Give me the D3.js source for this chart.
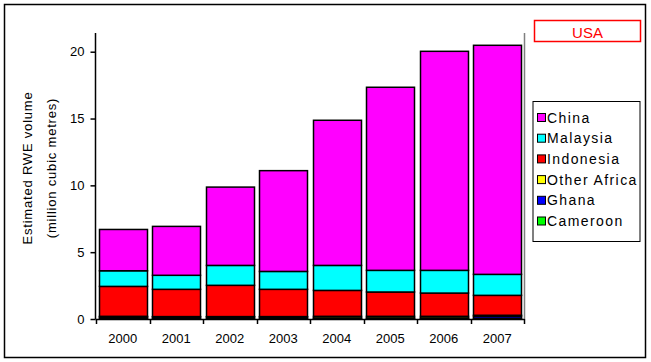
<!DOCTYPE html>
<html><head><meta charset="utf-8">
<script src="https://cdn.jsdelivr.net/npm/d3@7"></script>
<style>body{margin:0;background:#fff}svg{display:block}text{font-family:Arial,"Liberation Sans",sans-serif}</style>
</head><body><svg id="c" width="651" height="362"></svg>
<script>
const years = ["2000","2001","2002","2003","2004","2005","2006","2007"];
const seriesNames = ["Cameroon","Ghana","Other Africa","Indonesia","Malaysia","China"];
const cameroon    = [0.05,0.03,0.03,0.03,0.03,0.03,0.03,0.05];
const ghana       = [0.10,0.12,0.12,0.12,0.05,0.05,0.05,0.15];
const otherAfrica = [0.05,0.03,0.03,0.03,0.12,0.12,0.12,0.08];
const indonesia   = [2.24,2.04,2.34,2.04,1.94,1.82,1.74,1.49];
const malaysia    = [1.17,1.05,1.49,1.34,1.87,1.62,1.70,1.57];
const china       = [3.09,3.66,5.86,7.54,10.86,13.70,16.39,17.14];
const colors = ["#00FF00","#0000FF","#FFFF00","#FF0000","#00FFFF","#FF00FF"];
const yTicks = [0,5,10,15,20];
const legendOrder = ["China","Malaysia","Indonesia","Other Africa","Ghana","Cameroon"];

const svg = d3.select("#c");
const rows = years.map((y,i)=>({year:y,"Cameroon":cameroon[i],"Ghana":ghana[i],"Other Africa":otherAfrica[i],"Indonesia":indonesia[i],"Malaysia":malaysia[i],"China":china[i]}));
const stack = d3.stack().keys(seriesNames)(rows);
const color = d3.scaleOrdinal().domain(seriesNames).range(colors);

const x = d3.scaleBand().domain(years).range([96,524]).paddingInner(0.105).paddingOuter(0.0525);
const y = d3.scaleLinear().domain([0,21.4]).range([319,33]);

// outer frame
svg.append("rect").attr("x",4.5).attr("y",4.5).attr("width",641).attr("height",353).attr("fill","#fff").attr("stroke","#000").attr("stroke-width",1.5);

// right gray plot border
svg.append("line").attr("x1",524.5).attr("x2",524.5).attr("y1",33).attr("y2",319).attr("stroke","#808080").attr("stroke-width",1.5);

// bars
svg.append("g").selectAll("g").data(stack).join("g").attr("fill",d=>color(d.key))
  .selectAll("rect").data(d=>d).join("rect")
  .attr("x",d=>Math.round(x(d.data.year))+0.5)
  .attr("width",Math.round(x.bandwidth()))
  .attr("y",d=>y(d[1]))
  .attr("height",d=>y(d[0])-y(d[1]))
  .attr("stroke","#000").attr("stroke-width",1.5);

// y axis
const ya = svg.append("g").attr("transform","translate(95.5,0)")
  .call(d3.axisLeft(y).tickValues(yTicks).tickSize(5).tickPadding(6).tickFormat(d3.format("d")));
ya.select(".domain").attr("d","M0,33V319").attr("stroke","#000").attr("stroke-width",1.5);
ya.selectAll("line").attr("stroke-width",1.5);
ya.selectAll("text").attr("font-size",13).attr("fill","#000").attr("font-family","Arial, 'Liberation Sans', sans-serif");

// x axis
const xa = svg.append("g").attr("transform","translate(0,319.5)")
  .call(d3.axisBottom(x).tickSize(0).tickPadding(14));
xa.select(".domain").attr("d","M95.5,0H524.5").attr("stroke","#000").attr("stroke-width",1.5);
xa.selectAll("text").attr("font-size",13).attr("fill","#000").attr("font-family","Arial, 'Liberation Sans', sans-serif");
const step = x.step();
svg.append("g").selectAll("line").data(d3.range(years.length+1)).join("line")
  .attr("x1",i=>Math.round(96+i*step)+0.5).attr("x2",i=>Math.round(96+i*step)+0.5)
  .attr("y1",319).attr("y2",324).attr("stroke","#000").attr("stroke-width",1.5);

// y label
const yl = svg.append("text").attr("transform","translate(32,168) rotate(-90)").attr("text-anchor","middle").attr("font-size",13).attr("letter-spacing",0.8).attr("fill","#000");
yl.append("tspan").attr("x",0).attr("y",0).text("Estimated RWE volume");
yl.append("tspan").attr("x",0).attr("y",24).text("(million cubic metres)");

// title box
svg.append("rect").attr("x",534.5).attr("y",20.5).attr("width",106).attr("height",21).attr("fill","#fff").attr("stroke","#FF0000").attr("stroke-width",1.5);
svg.append("text").attr("x",587.5).attr("y",37.5).attr("text-anchor","middle").attr("font-size",15).attr("fill","#FF0000").text("USA");

// legend
svg.append("rect").attr("x",533).attr("y",101.5).attr("width",107).attr("height",140).attr("fill","#fff").attr("stroke","#000").attr("stroke-width",1);
const lg = svg.append("g").selectAll("g").data(legendOrder).join("g")
  .attr("transform",(d,i)=>`translate(0,${117.5+i*20.7})`);
lg.append("rect").attr("x",537.5).attr("y",-4).attr("width",8).attr("height",8).attr("fill",d=>color(d)).attr("stroke","#000").attr("stroke-width",1);
lg.append("text").attr("x",547).attr("y",5).attr("font-size",14).attr("letter-spacing",1.4).attr("fill","#000").text(d=>d);
</script></body></html>
